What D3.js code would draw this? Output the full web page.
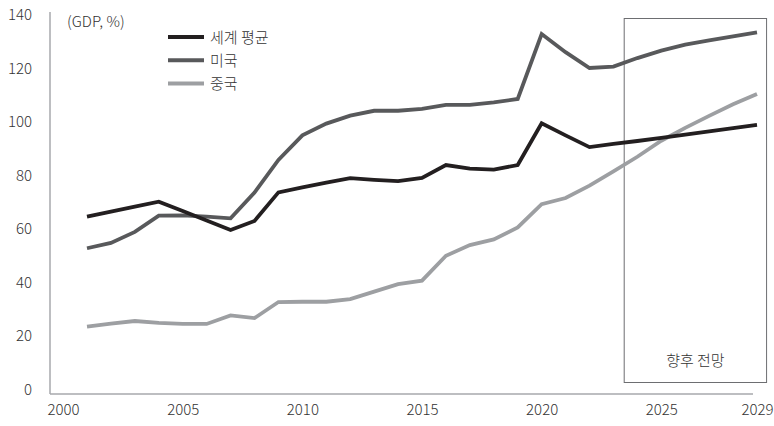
<!DOCTYPE html>
<html>
<head>
<meta charset="utf-8">
<script src="https://cdn.jsdelivr.net/npm/d3@7"></script>
<style>
	body { margin: 0; background: #fff; }
	svg text { font-family: "Noto Sans CJK KR", "Noto Sans", sans-serif; font-weight: 300; fill: #333; }
</style>
</head>
<body>
<svg width="774" height="426"></svg>
<script>
var years = d3.range(2001, 2030);
var worldAvg = [64.6, 66.5, 68.4, 70.2, 66.7, 63.2, 59.6, 63.0, 73.7, 75.6, 77.3, 79.0, 78.4, 77.9, 79.1, 83.9, 82.6, 82.2, 83.9, 99.5, 95.0, 90.6, 91.8, 92.9, 94.1, 95.3, 96.5, 97.7, 98.9];
var usa = [52.8, 54.8, 58.9, 65.0, 65.1, 64.6, 64.0, 73.6, 85.8, 95.0, 99.4, 102.4, 104.2, 104.2, 104.9, 106.4, 106.4, 107.3, 108.6, 132.9, 126.1, 120.2, 120.7, 123.9, 126.7, 128.9, 130.5, 132.0, 133.5];
var china = [23.5, 24.6, 25.6, 24.9, 24.5, 24.5, 27.7, 26.7, 32.7, 32.8, 32.8, 33.8, 36.6, 39.4, 40.7, 50.0, 54.0, 56.1, 60.6, 69.3, 71.6, 76.2, 81.5, 87.0, 93.0, 97.8, 102.3, 106.6, 110.5];
var seriesNames = ["세계 평균", "미국", "중국"];
var seriesColors = ["#231f20", "#58595b", "#9d9fa2"];
var yTicks = [0, 20, 40, 60, 80, 100, 120, 140];
var xTicks = [2000, 2005, 2010, 2015, 2020, 2025, 2029];
var forecastStart = 2023.45, forecastEnd = 2029.4;

function drawChart() {
	var svg = d3.select("svg");

	var x = d3.scaleLinear().domain([2001, 2029]).range([87, 757]);
	var y = d3.scaleLinear().domain([0, 140]).range([389.5, 15]);

	// axis lines
	svg.append("line")
		.attr("x1", 50).attr("x2", 50)
		.attr("y1", 12).attr("y2", 394)
		.attr("stroke", "#a7a9ac").attr("stroke-width", 1.5);
	svg.append("line")
		.attr("x1", 50).attr("x2", 753)
		.attr("y1", 394).attr("y2", 394)
		.attr("stroke", "#a7a9ac").attr("stroke-width", 1.5);

	var yAxis = svg.append("g")
		.attr("transform", "translate(32,0)")
		.call(d3.axisLeft(y).tickValues(yTicks).tickSize(0).tickPadding(0));
	yAxis.select(".domain").remove();
	yAxis.selectAll("text")
		.attr("font-size", 15)
		.attr("fill", "#333")
		.attr("font-family", null);

	var xAxis = svg.append("g")
		.attr("transform", "translate(0,404)")
		.call(d3.axisBottom(x).tickValues(xTicks).tickFormat(d3.format("d")).tickSize(0).tickPadding(0));
	xAxis.select(".domain").remove();
	xAxis.selectAll("text")
		.attr("font-size", 15)
		.attr("fill", "#333")
		.attr("font-family", null);

	// forecast box
	svg.append("rect")
		.attr("x", x(forecastStart))
		.attr("y", 18.5)
		.attr("width", x(forecastEnd) - x(forecastStart))
		.attr("height", 364)
		.attr("fill", "none")
		.attr("stroke", "#6d6e71")
		.attr("stroke-width", 1);
	svg.append("text")
		.attr("x", (x(forecastStart) + x(forecastEnd)) / 2)
		.attr("y", 366)
		.attr("text-anchor", "middle")
		.attr("font-size", 15)
		.text("향후 전망");

	svg.append("text")
		.attr("x", 67)
		.attr("y", 27)
		.attr("font-size", 15)
		.text("(GDP, %)");

	var allSeries = [worldAvg, usa, china];
	var line = d3.line()
		.x(function(d, i) { return x(years[i]); })
		.y(function(d) { return y(d); });

	// draw lightest first so black sits on top
	for (var s = allSeries.length - 1; s >= 0; s--) {
		svg.append("path")
			.datum(allSeries[s])
			.attr("fill", "none")
			.attr("stroke", seriesColors[s])
			.attr("stroke-width", 3.8)
			.attr("stroke-linejoin", "miter")
			.attr("d", line);
	}

	// legend
	var legend = svg.selectAll(".legend")
		.data(seriesNames)
		.enter().append("g")
		.attr("class", "legend")
		.attr("transform", function(d, i) { return "translate(168," + (37 + i * 23.3) + ")"; });
	legend.append("line")
		.attr("x1", 0).attr("x2", 36)
		.attr("y1", 0).attr("y2", 0)
		.attr("stroke", function(d, i) { return seriesColors[i]; })
		.attr("stroke-width", 4);
	legend.append("text")
		.attr("x", 42)
		.attr("y", 5.5)
		.attr("font-size", 15)
		.text(function(d) { return d; });
}

drawChart();
</script>
</body>
</html>
